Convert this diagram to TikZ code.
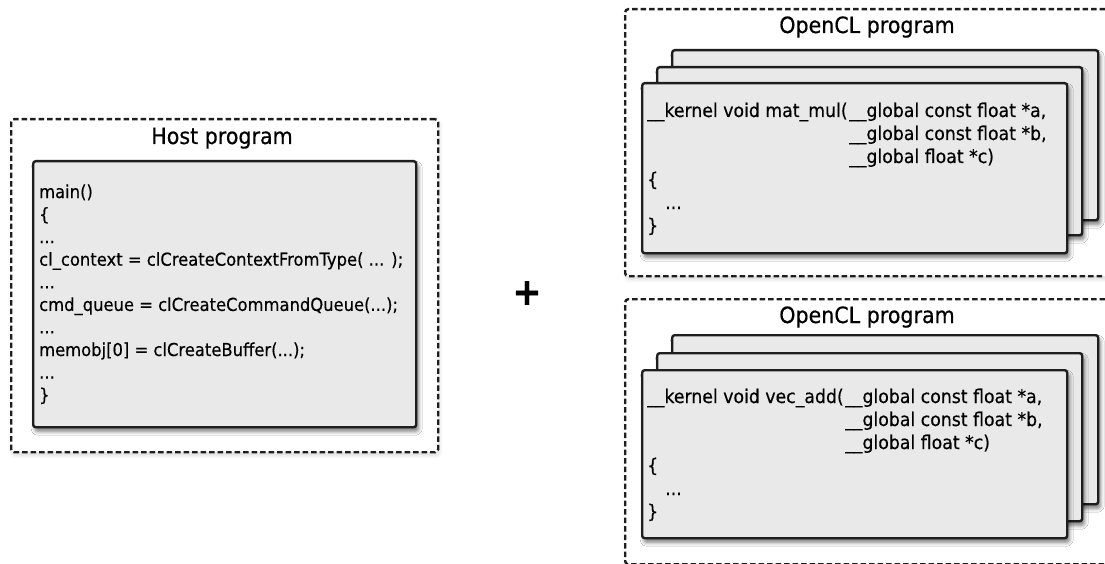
\documentclass[tikz,border=0pt]{standalone}
\usepackage{fontspec}
\setmainfont[FakeStretch=0.92, FakeBold=0.4]{DejaVu Sans}
\usetikzlibrary{shadows.blur}
\definecolor{cardfill}{HTML}{E9E9E9}
\definecolor{cardline}{HTML}{1E1E1E}
\tikzset{
  groupbox/.style={draw=cardline, fill=white, line width=2.4pt, dash pattern=on 5.5pt off 3pt,
    rounded corners=3pt, inner sep=0pt, anchor=north west,
    blur shadow={shadow xshift=1pt, shadow yshift=-3pt, shadow blur radius=4pt, shadow opacity=15}},
  card/.style={draw=cardline, line width=2.4pt, fill=cardfill, rounded corners=2.5pt,
    inner sep=0pt, anchor=north west,
    blur shadow={shadow xshift=2pt, shadow yshift=-4pt, shadow blur radius=4pt, shadow opacity=55}},
  grouptitle/.style={font=\fontsize{22.4}{26}\selectfont, anchor=base, inner sep=0pt},
  hostcode/.style={font=\fontsize{17.8}{21}\selectfont, anchor=base west, inner sep=0pt},
  kcode/.style={font=\fontsize{18.8}{22}\selectfont, anchor=base west, inner sep=0pt},
}
\begin{document}
\begin{tikzpicture}[x=1pt, y=-1pt]
\useasboundingbox (0,0) rectangle (1105,564);

% ---------- host program ----------
\node[groupbox, minimum width=427pt, minimum height=333pt] (host) at (10,118) {};
\node[grouptitle] (hosttitle) at (222,144) {Host program};
\node[card, minimum width=383pt, minimum height=266pt] (hostcard) at (32,160) {};
\node[hostcode] (host-0) at (39,198.0) {main()};
\node[hostcode] (host-1) at (39,220.6) {\{};
\node[hostcode] (host-2) at (39,243.1) {...};
\node[hostcode] (host-3) at (39,265.7) {cl\_context = clCreateContextFromType( ... );};
\node[hostcode] (host-4) at (39,288.3) {...};
\node[hostcode] (host-5) at (39,310.9) {cmd\_queue = clCreateCommandQueue(...);};
\node[hostcode] (host-6) at (39,333.4) {...};
\node[hostcode] (host-7) at (39,356.0) {memobj[0] = clCreateBuffer(...);};
\node[hostcode] (host-8) at (39,378.6) {...};
\node[hostcode] (host-9) at (39,401.1) {\}};

% ---------- plus sign ----------
\node[font=\fontsize{38}{38}\selectfont\bfseries, inner sep=0pt] (plus) at (527,293) {+};

% ---------- OpenCL program: mat_mul ----------
\node[groupbox, minimum width=500pt, minimum height=267pt] (prgA) at (624,8) {};
\node[grouptitle] (prgAtitle) at (867,33) {OpenCL program};
\node[card, minimum width=426pt, minimum height=170pt] (cardA3) at (671,49) {};
\node[card, minimum width=425pt, minimum height=168pt] (cardA2) at (656,66) {};
\node[card, minimum width=425pt, minimum height=170pt] (cardA1) at (641,82) {};
\node[kcode] (ka-0) at (647,117) {\_\_kernel void mat\_mul(};
\node[kcode] (ka-1) at (849,117) {\_\_global const float *a,};
\node[kcode] (ka-2) at (849,140) {\_\_global const float *b,};
\node[kcode] (ka-3) at (849,163) {\_\_global float *c)};
\node[kcode] (ka-4) at (647,186) {\{};
\node[kcode] (ka-5) at (665,209) {...};
\node[kcode] (ka-6) at (647,232) {\}};

% ---------- OpenCL program: vec_add ----------
\node[groupbox, minimum width=500pt, minimum height=265pt] (prgB) at (624,298) {};
\node[grouptitle] (prgBtitle) at (867,323) {OpenCL program};
\node[card, minimum width=426pt, minimum height=169pt] (cardB3) at (671,334) {};
\node[card, minimum width=425pt, minimum height=168pt] (cardB2) at (656,352) {};
\node[card, minimum width=425pt, minimum height=168pt] (cardB1) at (641,369) {};
\node[kcode] (kb-0) at (647,403) {\_\_kernel void vec\_add(};
\node[kcode] (kb-1) at (845,403) {\_\_global const float *a,};
\node[kcode] (kb-2) at (845,426) {\_\_global const float *b,};
\node[kcode] (kb-3) at (845,449) {\_\_global float *c)};
\node[kcode] (kb-4) at (647,472) {\{};
\node[kcode] (kb-5) at (665,495) {...};
\node[kcode] (kb-6) at (647,518) {\}};
\end{tikzpicture}
\end{document}
